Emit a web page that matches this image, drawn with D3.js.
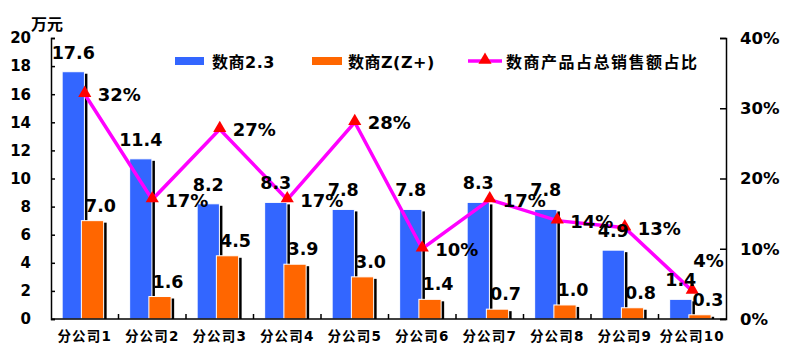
<!DOCTYPE html>
<html><head><meta charset="utf-8">
<script src="https://cdn.jsdelivr.net/npm/d3@7"></script>
<style>
body{margin:0;background:#fff;}
svg{display:block;}
text{font-family:"DejaVu Sans","Noto Sans CJK SC",sans-serif;fill:#000;}
</style></head><body>
<svg id="c" width="793" height="361"></svg>
<script>
const categories = ["分公司1","分公司2","分公司3","分公司4","分公司5","分公司6","分公司7","分公司8","分公司9","分公司10"];
const series1 = [17.6, 11.4, 8.2, 8.3, 7.8, 7.8, 8.3, 7.8, 4.9, 1.4];
const series2 = [7.0, 1.6, 4.5, 3.9, 3.0, 1.4, 0.7, 1.0, 0.8, 0.3];
const share = [0.32, 0.17, 0.27, 0.17, 0.28, 0.10, 0.17, 0.14, 0.13, 0.04];
const seriesNames = ["数商2.3", "数商Z(Z+)", "数商产品占总销售额占比"];
const leftTicks = [0,2,4,6,8,10,12,14,16,18,20];
const rightTicks = [0,0.1,0.2,0.3,0.4];
const unitLabel = "万元";

const svg = d3.select("#c");
const L = 51, R = 726, T = 38, B = 319;
const x = d3.scaleBand().domain(categories).range([L, R]).padding(0);
const y = d3.scaleLinear().domain([0,20]).range([B, T]);
const y2 = d3.scaleLinear().domain([0,0.4]).range([B, T]);
const bw = x.bandwidth();
const barW = bw*0.33;
const blue = "#3366FF", orange = "#FF6600";

// bars with shadows
function drawBars(vals, off, color) {
  const g = svg.append("g");
  g.selectAll("rect.s").data(vals).join("rect")
    .attr("x", (d,i)=>x(categories[i])+off+3)
    .attr("y", d=>y(d)+2)
    .attr("width", barW).attr("height", d=>B-y(d)-2)
    .attr("fill","#000");
  g.selectAll("rect.b").data(vals).join("rect")
    .attr("x", (d,i)=>x(categories[i])+off)
    .attr("y", d=>y(d))
    .attr("width", barW).attr("height", d=>B-y(d))
    .attr("fill",color).attr("stroke","#fff").attr("stroke-width",1);
}
drawBars(series1, bw*0.165, blue);
drawBars(series2, bw*0.45, orange);

// axes
const gl = svg.append("g").attr("transform",`translate(${L},0)`)
  .call(d3.axisLeft(y).tickValues(leftTicks).tickSize(-4).tickPadding(20).tickFormat(d3.format("d")));
const gr = svg.append("g").attr("transform",`translate(${R},0)`)
  .call(d3.axisRight(y2).tickValues(rightTicks).tickSize(-6).tickPadding(14).tickFormat(d3.format(".0%")));
const gb = svg.append("g").attr("transform",`translate(0,${B})`)
  .call(d3.axisBottom(x).tickSize(0).tickPadding(12));
[gl,gr,gb].forEach(g=>{
  g.select(".domain").attr("stroke","#000").attr("stroke-width",1.5);
  g.selectAll(".tick line").attr("stroke","#000").attr("stroke-width",1.5);
});
gl.selectAll("text").attr("font-size",15).attr("font-weight","bold").attr("font-family","DejaVu Sans");
gr.selectAll("text").attr("font-size",16.5).attr("font-weight","bold").attr("font-family","DejaVu Sans");
gb.selectAll("text").attr("font-size",13.5).attr("font-weight","bold").attr("letter-spacing",1.2)
  .attr("font-family","DejaVu Sans, Noto Sans CJK SC");
gb.select(".domain").attr("d",`M${L},0H${R}`);
// inward category ticks
svg.append("g").selectAll("line").data(categories.slice(1)).join("line")
  .attr("x1",d=>x(d)).attr("x2",d=>x(d)).attr("y1",B).attr("y2",B-5)
  .attr("stroke","#000").attr("stroke-width",1.5);

// unit label
svg.append("text").attr("x",31).attr("y",30).attr("font-size",16)
  .attr("font-family","Noto Sans CJK SC").attr("font-weight","bold").text(unitLabel);

// line
const cx = i => x(categories[i]) + bw/2;
svg.append("path").datum(share)
  .attr("d", d3.line().x((d,i)=>cx(i)).y(d=>y2(d)))
  .attr("fill","none").attr("stroke","#FF00FF").attr("stroke-width",3.5);
const tri = d3.symbol().type(d3.symbolTriangle).size(75);
svg.append("g").selectAll("path").data(share).join("path")
  .attr("d", tri).attr("transform",(d,i)=>`translate(${cx(i)},${y2(d)-1})`)
  .attr("fill","#FF0000");

// bar value labels
svg.append("g").selectAll("text").data(series1).join("text")
  .attr("x",(d,i)=>x(categories[i])+bw*0.165+barW/2)
  .attr("y",d=>y(d)-13).attr("text-anchor","middle")
  .attr("font-size",17.5).attr("font-weight","bold").text(d=>d.toFixed(1));
svg.append("g").selectAll("text").data(series2).join("text")
  .attr("x",(d,i)=>x(categories[i])+bw*0.45+barW/2+8)
  .attr("y",d=>y(d)-9).attr("text-anchor","middle")
  .attr("font-size",17.5).attr("font-weight","bold").text(d=>d.toFixed(1));
// percent labels
svg.append("g").selectAll("text").data(share).join("text")
  .attr("x",(d,i)=> i===share.length-1 ? cx(i)+1 : cx(i)+13)
  .attr("y",(d,i)=> i===share.length-1 ? y2(d)-24 : y2(d)+7)
  .attr("font-size",18).attr("font-weight","bold").text(d=>d3.format(".0%")(d));

// legend
const lg = svg.append("g");
lg.append("rect").attr("x",175).attr("y",57).attr("width",29).attr("height",8).attr("fill",blue);
lg.append("text").attr("x",212).attr("y",68).attr("font-size",16).attr("font-weight","bold").attr("letter-spacing",0.5).text(seriesNames[0]);
lg.append("rect").attr("x",312).attr("y",57).attr("width",30).attr("height",8).attr("fill",orange);
lg.append("text").attr("x",348).attr("y",68).attr("font-size",16).attr("font-weight","bold").attr("letter-spacing",0.5).text(seriesNames[1]);
lg.append("line").attr("x1",468).attr("x2",502).attr("y1",61).attr("y2",61).attr("stroke","#FF00FF").attr("stroke-width",3.5);
lg.append("path").attr("d",tri).attr("transform","translate(485,60)").attr("fill","#FF0000");
lg.append("text").attr("x",506).attr("y",68).attr("font-size",16).attr("letter-spacing",1.5)
  .attr("font-family","Noto Sans CJK SC").attr("font-weight","bold").text(seriesNames[2]);
</script>
</body></html>
